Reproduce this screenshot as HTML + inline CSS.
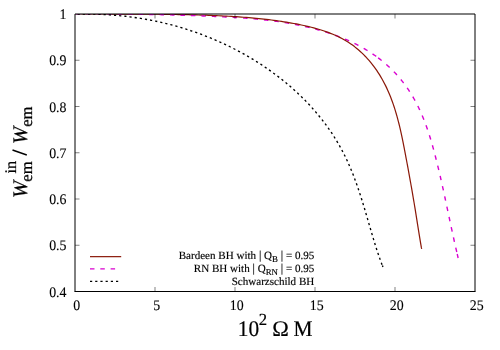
<!DOCTYPE html>
<html lang="en"><head><meta charset="utf-8"><title>plot</title>
<style>
html,body{margin:0;padding:0;background:#fff;}
svg{display:block;will-change:transform;text-rendering:geometricPrecision;font-family:"Liberation Serif",serif;}
</style></head>
<body>
<svg width="500" height="350" viewBox="0 0 500 350">
<defs><clipPath id="pc"><rect x="74" y="14" width="402" height="278"/></clipPath></defs>
<rect width="500" height="350" fill="#fff"/>
<g font-size="14.6" fill="#000" stroke="#000" stroke-width="0.12">
<text transform="translate(76.7,310.4) scale(0.95,1)" text-anchor="middle">0</text><text transform="translate(156.7,310.4) scale(0.95,1)" text-anchor="middle">5</text><text transform="translate(236.7,310.4) scale(0.95,1)" text-anchor="middle">10</text><text transform="translate(316.7,310.4) scale(0.95,1)" text-anchor="middle">15</text><text transform="translate(396.7,310.4) scale(0.95,1)" text-anchor="middle">20</text><text transform="translate(476.7,310.4) scale(0.95,1)" text-anchor="middle">25</text>
<text transform="translate(66.5,19.10) scale(0.95,1)" text-anchor="end">1</text><text transform="translate(66.5,65.35) scale(0.95,1)" text-anchor="end">0.9</text><text transform="translate(66.5,111.60) scale(0.95,1)" text-anchor="end">0.8</text><text transform="translate(66.5,157.85) scale(0.95,1)" text-anchor="end">0.7</text><text transform="translate(66.5,204.10) scale(0.95,1)" text-anchor="end">0.6</text><text transform="translate(66.5,250.35) scale(0.95,1)" text-anchor="end">0.5</text><text transform="translate(66.5,296.60) scale(0.95,1)" text-anchor="end">0.4</text>
</g>
<g fill="none" stroke-width="1.22" stroke-linejoin="round">
<g clip-path="url(#pc)">
<polyline stroke="#d900d0" stroke-width="1.42" stroke-dashoffset="3.62" stroke-dasharray="4.5 5.95" points="204.97,16.01 205.53,16.03 206.86,16.09 208.18,16.14 209.50,16.19 210.83,16.25 212.15,16.30 213.48,16.36 214.80,16.42 216.12,16.48 217.45,16.54 218.77,16.60 220.10,16.66 221.42,16.72 222.74,16.78 224.07,16.85 225.39,16.92 226.71,16.98 228.04,17.05 229.36,17.12 230.68,17.20 232.01,17.27 233.33,17.35 234.65,17.43 235.98,17.51 237.30,17.59 238.62,17.67 239.95,17.76 241.27,17.85 242.59,17.94 243.92,18.03 245.24,18.13 246.56,18.23 247.89,18.33 249.21,18.43 250.53,18.54 251.86,18.65 253.18,18.77 254.51,18.88 255.83,19.00 257.15,19.13 258.48,19.25 259.80,19.38 261.12,19.52 262.45,19.65 263.77,19.79 265.10,19.94 266.42,20.09 267.74,20.24 269.07,20.40 270.39,20.56 271.72,20.72 273.04,20.89 274.37,21.06 275.69,21.24 277.01,21.42 278.34,21.61 279.66,21.80 280.99,22.00 282.31,22.20 283.64,22.40 284.96,22.61 286.29,22.83 287.62,23.05 288.94,23.28 290.27,23.51 291.59,23.75 292.92,23.99 294.24,24.24 295.57,24.49 296.89,24.75 298.21,25.01 299.53,25.28 300.86,25.56 302.18,25.84 303.50,26.13 304.81,26.42 306.13,26.72 307.45,27.03 308.76,27.34 310.07,27.66 311.38,27.99 312.69,28.32 314.00,28.66 315.30,29.00 316.61,29.35 317.91,29.71 319.20,30.07 320.50,30.44 321.79,30.82 323.08,31.21 324.37,31.60 325.66,32.00 326.94,32.41 328.22,32.82 329.49,33.24 330.77,33.67 332.04,34.10 333.30,34.55 334.56,35.00 335.82,35.46 337.08,35.92 338.33,36.40 339.57,36.88 340.82,37.37 342.06,37.86 343.29,38.37 344.52,38.88 345.74,39.40 346.97,39.93 348.18,40.47 349.39,41.02 350.60,41.57 351.80,42.14 353.00,42.71 354.19,43.29 355.37,43.88 356.55,44.48 357.73,45.08 358.90,45.70 360.06,46.32 361.22,46.96 362.37,47.60 363.51,48.25 364.65,48.91 365.78,49.58 366.91,50.26 368.03,50.95 369.14,51.65 370.25,52.36 371.35,53.07 372.44,53.80 373.53,54.54 374.61,55.28 375.68,56.04 376.74,56.81 377.80,57.58 378.11,57.81"/>
<polyline stroke="#d900d0" stroke-width="1.42" stroke-dasharray="4.5 6.0" points="378.11,57.81 378.85,58.37 379.89,59.17 380.93,59.97 381.95,60.79 382.97,61.62 383.98,62.46 384.98,63.30 385.98,64.16 386.96,65.03 387.94,65.91 388.91,66.80 389.87,67.71 390.82,68.62 391.76,69.54 392.70,70.47 393.62,71.41 394.54,72.37 395.44,73.33 396.34,74.30 397.23,75.28 398.10,76.27 398.97,77.27 399.83,78.28 400.67,79.30 401.51,80.33 402.34,81.36 403.16,82.41 403.96,83.46 404.76,84.52 405.54,85.59 406.32,86.66 407.08,87.75 407.83,88.84 408.57,89.94 409.30,91.05 410.02,92.16 410.73,93.28 411.43,94.41 412.12,95.55 412.79,96.69 413.46,97.84 414.12,98.99 414.76,100.15 415.40,101.32 416.02,102.50 416.64,103.67 417.25,104.86 417.84,106.05 418.43,107.25 419.01,108.45 419.58,109.66 420.14,110.87 420.69,112.08 421.23,113.31 421.76,114.53 422.28,115.76 422.80,117.00 423.31,118.24 423.81,119.48 424.30,120.73 424.78,121.98 425.25,123.23 425.72,124.49 426.18,125.75 426.63,127.02 427.08,128.29 427.52,129.56 427.95,130.83 428.38,132.11 428.80,133.39 429.21,134.67 429.62,135.95 430.02,137.24 430.41,138.53 430.81,139.82 431.19,141.11 431.57,142.40 431.95,143.70 432.32,145.00 432.68,146.29 433.04,147.59 433.40,148.89 433.76,150.19 434.11,151.49 434.45,152.79 434.79,154.09 435.13,155.39 435.47,156.70 435.80,158.00 436.13,159.30 436.46,160.60 436.79,161.90 437.11,163.20 437.43,164.50 437.75,165.80 438.06,167.10 438.37,168.40 438.69,169.70 438.99,171.00 439.30,172.30 439.61,173.60 439.91,174.90 440.21,176.20 440.51,177.50 440.81,178.79 441.10,180.09 441.39,181.39 441.69,182.69 441.98,183.99 442.27,185.28 442.56,186.58 442.84,187.88 443.13,189.17 443.41,190.47 443.70,191.77 443.98,193.07 444.26,194.36 444.54,195.66 444.82,196.96 445.10,198.25 445.37,199.55 445.65,200.84 445.93,202.14 446.20,203.44 446.48,204.73 446.76,206.03 447.03,207.33 447.30,208.62 447.58,209.92 447.85,211.22 448.13,212.51 448.40,213.81 448.67,215.11 448.95,216.40 449.22,217.70 449.50,219.00 449.77,220.29 450.05,221.59 450.32,222.89 450.60,224.18 450.88,225.48 451.15,226.78 451.43,228.07 451.71,229.37 451.99,230.67 452.27,231.97 452.55,233.26 452.83,234.56 453.12,235.86 453.40,237.16 453.69,238.46 453.97,239.75 454.26,241.05 454.55,242.35 454.84,243.65 455.14,244.95 455.43,246.25 455.72,247.55 456.02,248.85 456.32,250.15 456.62,251.45 456.93,252.75 457.02,253.15"/>
<polyline stroke="#d900d0" stroke-width="1.42" points="457.22,254.02 457.23,254.05 457.54,255.35 457.85,256.65 458.10,258.00"/>
<polyline stroke="#8a1808" points="75.00,13.75 77.50,13.70 80.02,13.74 82.54,13.77 85.07,13.81 87.59,13.83 90.12,13.86 92.64,13.89 95.17,13.91 97.69,13.93 100.22,13.95 102.74,13.97 105.27,13.98 107.79,14.00 110.31,14.01 112.84,14.02 115.36,14.04 117.89,14.05 120.41,14.06 122.94,14.07 125.46,14.08 127.99,14.09 130.51,14.10 133.03,14.11 135.56,14.12 138.08,14.13 140.60,14.14 143.13,14.15 145.65,14.17 148.17,14.18 150.70,14.20 153.22,14.22 155.74,14.24 158.26,14.26 160.79,14.28 163.31,14.31 165.83,14.34 168.35,14.37 170.87,14.40 173.39,14.44 175.91,14.48 178.43,14.52 180.95,14.56 183.47,14.61 185.99,14.66 188.51,14.72 191.03,14.78 193.55,14.85 196.06,14.91 198.58,14.99 201.10,15.06 203.62,15.15 206.13,15.23 208.65,15.33 211.16,15.42 213.68,15.53 216.19,15.63 218.71,15.75 221.22,15.87 223.73,15.99 226.24,16.13 228.76,16.26 231.27,16.41 233.78,16.56 236.29,16.72 238.80,16.89 241.31,17.06 243.82,17.25 246.32,17.44 248.83,17.65 251.34,17.86 253.84,18.09 256.35,18.32 258.86,18.57 261.36,18.83 263.86,19.10 266.37,19.38 268.87,19.68 271.37,20.00 273.87,20.32 276.37,20.66 278.87,21.02 281.37,21.39 283.87,21.78 286.37,22.18 288.86,22.60 291.36,23.04 293.85,23.50 296.35,23.97 298.84,24.47 301.33,24.98 303.82,25.51 306.31,26.07 308.79,26.65 311.26,27.26 313.72,27.90 316.18,28.56 318.62,29.27 321.04,30.00 323.45,30.78 325.84,31.59 328.21,32.44 330.56,33.34 332.89,34.28 335.19,35.27 337.46,36.31 339.71,37.40 341.92,38.54 344.11,39.74 346.26,40.99 348.37,42.30 350.45,43.68 352.49,45.11 354.49,46.61 356.45,48.16 358.37,49.77 360.25,51.43 362.09,53.14 363.89,54.90 365.65,56.71 367.36,58.56 369.03,60.45 370.66,62.38 372.24,64.35 373.78,66.36 375.27,68.40 376.72,70.46 378.12,72.56 379.48,74.68 380.78,76.83 382.04,79.00 383.26,81.19 384.43,83.41 385.56,85.64 386.65,87.89 387.69,90.16 388.70,92.45 389.67,94.76 390.61,97.08 391.51,99.42 392.37,101.77 393.21,104.14 394.01,106.52 394.79,108.92 395.53,111.32 396.25,113.74 396.94,116.17 397.61,118.60 398.26,121.05 398.89,123.50 399.49,125.96 400.08,128.43 400.65,130.90 401.20,133.38 401.74,135.86 402.26,138.35 402.78,140.84 403.28,143.33 403.77,145.82 404.26,148.31 404.74,150.81 405.21,153.30 405.68,155.79 406.14,158.27 406.61,160.76 407.07,163.24 407.53,165.71 407.99,168.19 408.44,170.66 408.89,173.14 409.34,175.61 409.79,178.08 410.23,180.55 410.68,183.01 411.11,185.48 411.55,187.95 411.98,190.42 412.41,192.88 412.83,195.35 413.25,197.82 413.67,200.29 414.09,202.76 414.50,205.23 414.90,207.70 415.31,210.18 415.71,212.66 416.10,215.13 416.50,217.62 416.90,220.10 417.29,222.59 417.69,225.08 418.09,227.58 418.49,230.07 418.89,232.58 419.29,235.08 419.70,237.60 420.11,240.11 420.53,242.63 420.96,245.16 421.38,247.69 421.70,248.80"/>
<polyline stroke="#d900d0" stroke-width="1.42" stroke-dashoffset="-0.98" stroke-dasharray="4.5 5.95" points="75.00,13.80 76.18,13.79 77.53,13.79 78.87,13.79 80.22,13.79 81.57,13.80 82.91,13.80 84.26,13.80 85.60,13.81 86.95,13.81 88.29,13.81 89.64,13.82 90.98,13.82 92.32,13.83 93.67,13.83 95.01,13.84 96.35,13.85 97.69,13.85 99.04,13.86 100.38,13.87 101.72,13.88 103.06,13.88 104.40,13.89 105.74,13.90 107.08,13.91 108.42,13.92 109.76,13.93 111.09,13.94 112.43,13.95 113.77,13.96 115.11,13.97 116.45,13.99 117.78,14.00 119.12,14.01 120.46,14.03 121.79,14.04 123.13,14.05 124.46,14.07 125.80,14.08 127.13,14.10 128.47,14.12 129.80,14.13 131.14,14.15 132.47,14.17 133.81,14.18 135.14,14.20 136.47,14.22 137.81,14.24 139.14,14.26 140.47,14.28 141.80,14.30 143.14,14.33 144.47,14.35 145.80,14.37 147.13,14.39 148.46,14.42 149.79,14.44 151.12,14.47 152.45,14.49 153.78,14.52 155.11,14.55 156.44,14.57 157.77,14.60 159.10,14.63 160.43,14.66 161.76,14.69 163.09,14.72 164.42,14.75 165.75,14.78 167.07,14.81 168.40,14.84 169.73,14.88 171.06,14.91 172.39,14.95 173.71,14.98 175.04,15.02 176.37,15.05 177.69,15.09 179.02,15.13 180.35,15.17 181.67,15.21 183.00,15.25 184.33,15.29 185.65,15.33 186.98,15.37 188.31,15.41 189.63,15.46 190.96,15.50 192.28,15.54 193.61,15.59 194.93,15.64 196.26,15.68 197.58,15.73 198.91,15.78 200.23,15.83 201.56,15.88 202.88,15.93 204.21,15.98 204.97,16.01"/>
<polyline stroke="#000" stroke-width="1.35" stroke-dashoffset="2.6" stroke-dasharray="2.2 3.0" points="75.00,13.90 77.49,14.09 79.66,14.05 81.82,14.03 83.99,14.02 86.15,14.02 88.32,14.04 90.49,14.06 92.67,14.10 94.84,14.16 97.01,14.22 99.19,14.30 101.37,14.39 103.55,14.50 105.72,14.62 107.90,14.75 110.08,14.89 112.26,15.05 114.44,15.22 116.62,15.41 118.80,15.61 120.98,15.82 123.16,16.05 125.34,16.29 127.51,16.54 129.69,16.81 131.87,17.10 134.04,17.39 136.22,17.71 138.39,18.03 140.56,18.37 142.73,18.73 144.89,19.10 147.06,19.48 149.22,19.88 151.38,20.30 153.54,20.72 155.70,21.17 157.85,21.63 160.00,22.10 162.15,22.59 164.29,23.10 166.43,23.62 168.57,24.15 170.71,24.70 172.84,25.27 174.97,25.85 177.09,26.44 179.21,27.05 181.32,27.67 183.44,28.31 185.54,28.97 187.64,29.63 189.74,30.32 191.84,31.02 193.92,31.73 196.01,32.45 198.08,33.20 200.16,33.95 202.22,34.72 204.28,35.51 206.34,36.31 208.39,37.12 210.43,37.95 212.47,38.79 214.50,39.65 216.53,40.52 218.54,41.40 220.55,42.30 222.56,43.22 224.56,44.15 226.55,45.09 228.53,46.04 230.51,47.02 232.47,48.00 234.43,49.00 236.39,50.01 238.33,51.04 240.27,52.08 242.20,53.13 244.12,54.20 246.03,55.28 247.93,56.38 249.83,57.49 251.71,58.62 253.59,59.75 255.46,60.91 257.31,62.07 259.16,63.25 261.00,64.44 262.83,65.65 264.65,66.87 266.46,68.11 268.26,69.36 270.05,70.62 271.82,71.89 273.59,73.18 275.35,74.49 277.10,75.80 278.83,77.13 280.56,78.48 282.27,79.84 283.97,81.21 285.66,82.59 287.34,83.99 289.01,85.40 290.66,86.83 292.31,88.27 293.94,89.73 295.56,91.19 297.16,92.68 298.76,94.18 300.34,95.69 301.91,97.22 303.46,98.76 305.00,100.32 306.53,101.89 308.05,103.48 309.55,105.08 311.04,106.70 312.51,108.34 313.97,109.98 315.42,111.65 316.85,113.33 318.26,115.03 319.66,116.74 321.05,118.46 322.41,120.20 323.77,121.95 325.10,123.71 326.41,125.49 327.71,127.28 328.99,129.09 330.25,130.91 331.49,132.73 332.71,134.58 333.91,136.43 335.09,138.29 336.24,140.17 337.38,142.06 338.49,143.95 339.58,145.86 340.65,147.78 341.70,149.71 342.72,151.64 343.72,153.59 344.71,155.55 345.67,157.51 346.61,159.49 347.53,161.47 348.43,163.46 349.31,165.46 350.18,167.46 351.02,169.48 351.85,171.50 352.67,173.52 353.47,175.56 354.25,177.60 355.02,179.64 355.77,181.70 356.51,183.75 357.24,185.82 357.95,187.89 358.66,189.96 359.35,192.04 360.03,194.12 360.70,196.20 361.36,198.29 362.02,200.39 362.66,202.48 363.30,204.58 363.94,206.69 364.57,208.79 365.19,210.90 365.81,213.01 366.43,215.12 367.05,217.23 367.67,219.34 368.28,221.46 368.89,223.57 369.51,225.69 370.13,227.81 370.75,229.92 371.37,232.04 372.00,234.15 372.63,236.27 373.26,238.38 373.91,240.49 374.56,242.60 375.21,244.71 375.88,246.82 376.55,248.92 377.24,251.02 377.93,253.12 378.64,255.22 379.36,257.31 380.09,259.40 380.83,261.48 381.59,263.56 382.36,265.64 382.80,266.50"/>
<line x1="382.45" y1="265.5" x2="382.95" y2="267.0" stroke="#000" stroke-width="1.35"/>
</g>
<line x1="90" y1="256.65" x2="121.2" y2="256.65" stroke="#8a1808" stroke-width="1.2"/>
<line x1="90" y1="268.9" x2="119" y2="268.9" stroke="#d900d0" stroke-width="1.42" stroke-dasharray="4.5 5.8"/>
<line x1="90" y1="281.25" x2="121.2" y2="281.25" stroke="#000" stroke-width="1.25" stroke-dasharray="2.2 3.0"/>
</g>
<g stroke="#000" stroke-width="0.5" fill="none">
<line x1="155" y1="291.5" x2="155" y2="287.0"/><line x1="155" y1="14" x2="155" y2="18.5"/><line x1="235" y1="291.5" x2="235" y2="287.0"/><line x1="235" y1="14" x2="235" y2="18.5"/><line x1="315" y1="291.5" x2="315" y2="287.0"/><line x1="315" y1="14" x2="315" y2="18.5"/><line x1="395" y1="291.5" x2="395" y2="287.0"/><line x1="395" y1="14" x2="395" y2="18.5"/><line x1="75" y1="60.25" x2="79.5" y2="60.25"/><line x1="475" y1="60.25" x2="470.5" y2="60.25"/><line x1="75" y1="106.5" x2="79.5" y2="106.5"/><line x1="475" y1="106.5" x2="470.5" y2="106.5"/><line x1="75" y1="152.75" x2="79.5" y2="152.75"/><line x1="475" y1="152.75" x2="470.5" y2="152.75"/><line x1="75" y1="199.0" x2="79.5" y2="199.0"/><line x1="475" y1="199.0" x2="470.5" y2="199.0"/><line x1="75" y1="245.25" x2="79.5" y2="245.25"/><line x1="475" y1="245.25" x2="470.5" y2="245.25"/>
</g>
<g stroke="#000" stroke-width="1" fill="none">
<path d="M75,291.5 L75,14 L475,14 L475,291.5"/>
<line x1="74.5" y1="291.5" x2="475.5" y2="291.5"/>
</g>
<g font-size="11.07" fill="#000" text-anchor="end" stroke="#000" stroke-width="0.15">
<text x="314.3" y="259.4">Bardeen BH with <tspan font-size="12">|</tspan> Q<tspan font-size="8.9" dy="3">B</tspan><tspan dy="-3"> </tspan><tspan font-size="12">|</tspan> = 0.95</text>
<text x="314.3" y="271.9">RN BH with <tspan font-size="12">|</tspan> Q<tspan font-size="8.9" dy="3">RN</tspan><tspan dy="-3"> </tspan><tspan font-size="12">|</tspan> = 0.95</text>
<text x="314.3" y="284.5">Schwarzschild BH</text>
</g>
<g font-size="22.3" fill="#000" stroke="#000" stroke-width="0.2">
<text transform="translate(237.7,335.6) scale(0.96,1)">10</text>
<text transform="translate(258.7,324.7) scale(0.98,1)" font-size="17">2</text>
<text transform="translate(272.3,335.6) scale(1.0,1)">Ω</text>
<text transform="translate(293.4,335.6) scale(0.96,1)">M</text>
</g>
<line x1="12.5" y1="150.0" x2="26.8" y2="155.0" stroke="#000" stroke-width="1.4"/>
<g transform="translate(26.6,198) rotate(-90)" fill="#000" stroke="#000" stroke-width="0.25">
<text x="0" y="0" font-size="20.7" font-style="italic">W</text>
<text x="16.3" y="5.7" font-size="16.6">em</text>
<text x="24.4" y="-10.5" font-size="16.3">in</text>
<text x="54.0" y="0" font-size="20.7" font-style="italic">W</text>
<text x="71.2" y="5.7" font-size="16.6">em</text>
</g>
</svg>
</body></html>
